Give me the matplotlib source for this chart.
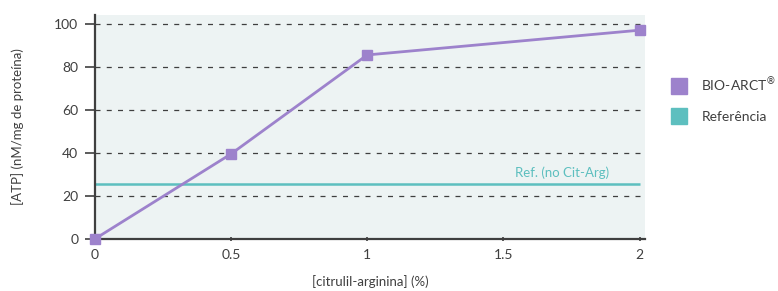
import matplotlib.pyplot as plt

# Data
conc = [0, 0.5, 1, 2]
atp_bio = [0, 39.5, 85.5, 97]
ref_level = 25.5
yticks = [0, 20, 40, 60, 80, 100]
xticks = [0, 0.5, 1, 1.5, 2]
xticklabels = ["0", "0.5", "1", "1.5", "2"]

purple = "#9d82cc"
teal = "#5dbfbf"
dark = "#3f3f3f"

plt.rcParams["font.family"] = ["Lato", "DejaVu Sans"]

fig = plt.figure(figsize=(7.78, 2.91), dpi=100)
ax = fig.add_axes([0.122, 0.179, 0.707, 0.769])
ax.set_facecolor("#edf3f3")

ax.plot(conc, atp_bio, color=purple, lw=2, marker="s", ms=6.5, zorder=3,
        clip_on=False)
ax.hlines(ref_level, 0, 2, color=teal, lw=1.8, zorder=2)
ax.text(1.89, ref_level + 2.5, "Ref. (no Cit-Arg)", color=teal,
        fontsize=9.5, ha="right", va="bottom")

ax.set_xlim(0, 2.02)
ax.set_ylim(0, 104)
ax.set_xticks(xticks)
ax.set_xticklabels(xticklabels)
ax.set_yticks(yticks)
for y in yticks[1:]:
    ax.axhline(y, color=dark, lw=0.9, ls=(0, (4, 5)), zorder=1)

for s in ["top", "right"]:
    ax.spines[s].set_visible(False)
for s in ["left", "bottom"]:
    ax.spines[s].set_color(dark)
    ax.spines[s].set_linewidth(1.6)
ax.tick_params(axis="y", colors=dark, labelsize=10, length=7, width=1.2,
               pad=5)
ax.tick_params(axis="x", colors=dark, labelsize=10, length=3, width=1.2,
               direction="inout", pad=6)

ax.set_xlabel("[citrulil-arginina] (%)", color=dark, fontsize=9.5,
              labelpad=10)
ax.set_ylabel("[ATP] (nM/mg de proteína)", color=dark, fontsize=9.5,
              labelpad=22)

# legend
h1 = plt.Line2D([], [], color=purple, marker="s", ls="", ms=12)
h2 = plt.Line2D([], [], color=teal, marker="s", ls="", ms=12)
fig.legend([h1, h2], ["BIO-ARCT$^{®}$", "Referência"], loc="upper left",
           bbox_to_anchor=(0.848, 0.76), frameon=False, fontsize=10,
           labelcolor=dark, handletextpad=0.6, labelspacing=1.25,
           borderaxespad=0)

fig.savefig("out.png", dpi=100)
